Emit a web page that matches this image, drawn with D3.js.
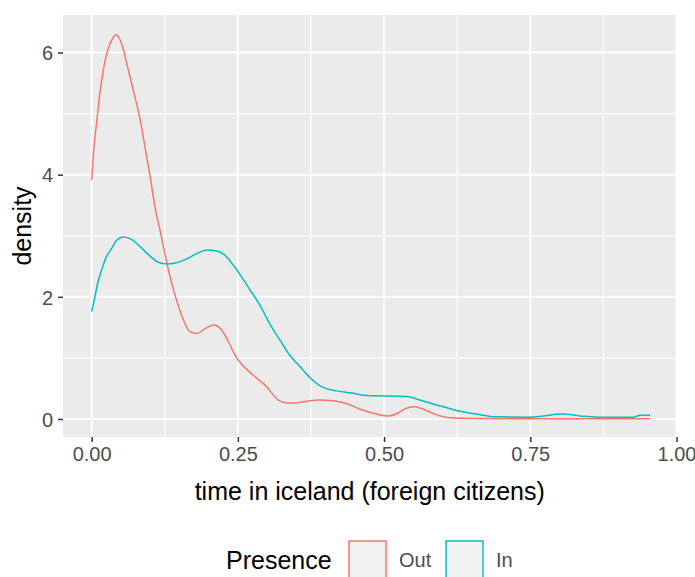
<!DOCTYPE html>
<html>
<head>
<meta charset="utf-8">
<script src="https://cdn.jsdelivr.net/npm/d3@7"></script>
<style>
  body { margin: 0; background: #fff; }
  text { font-family: "Liberation Sans", Arial, sans-serif; }
</style>
</head>
<body>
<div id="chart"></div>
<script>
// density curves
const outX = [0, 0.003, 0.0085, 0.014, 0.02, 0.026, 0.034, 0.042, 0.051, 0.06, 0.071, 0.083, 0.091, 0.10, 0.108, 0.117, 0.125, 0.134, 0.145, 0.157, 0.168, 0.18, 0.194, 0.208, 0.222, 0.235, 0.245, 0.256, 0.276, 0.299, 0.319, 0.336, 0.356, 0.373, 0.39, 0.413, 0.436, 0.459, 0.487, 0.507, 0.522, 0.536, 0.55, 0.567, 0.584, 0.604, 0.63, 0.7, 0.8, 0.9, 0.955];
const outY = [3.91, 4.35, 4.85, 5.33, 5.71, 5.99, 6.20, 6.29, 6.15, 5.82, 5.39, 4.90, 4.46, 3.97, 3.48, 3.09, 2.71, 2.33, 1.95, 1.62, 1.43, 1.40, 1.48, 1.54, 1.46, 1.24, 1.05, 0.90, 0.72, 0.53, 0.31, 0.26, 0.27, 0.30, 0.31, 0.30, 0.25, 0.16, 0.08, 0.05, 0.09, 0.17, 0.20, 0.16, 0.09, 0.03, 0.01, 0.005, 0.005, 0.005, 0.005];
const inX = [0, 0.0056, 0.011, 0.017, 0.024, 0.034, 0.043, 0.054, 0.068, 0.083, 0.097, 0.111, 0.125, 0.142, 0.162, 0.182, 0.197, 0.214, 0.228, 0.242, 0.256, 0.271, 0.288, 0.305, 0.322, 0.339, 0.356, 0.373, 0.393, 0.419, 0.447, 0.47, 0.539, 0.561, 0.59, 0.624, 0.658, 0.693, 0.75, 0.772, 0.804, 0.835, 0.864, 0.926, 0.938, 0.955];
const inY = [1.76, 2.00, 2.25, 2.44, 2.63, 2.79, 2.93, 2.98, 2.94, 2.82, 2.69, 2.58, 2.54, 2.55, 2.62, 2.72, 2.765, 2.75, 2.68, 2.52, 2.33, 2.11, 1.86, 1.55, 1.29, 1.04, 0.86, 0.68, 0.53, 0.46, 0.42, 0.385, 0.37, 0.31, 0.23, 0.14, 0.08, 0.035, 0.03, 0.05, 0.08, 0.05, 0.03, 0.03, 0.06, 0.06];

const groups = ["Out", "In"];
const colors = ["#F8766D", "#00BFC4"];
const xTicks = [0, 0.25, 0.5, 0.75, 1.0];
const xMinor = [0.125, 0.375, 0.625, 0.875];
const yTicks = [0, 2, 4, 6];
const yMinor = [1, 3, 5];

const width = 695, height = 577;
const panel = {left: 63, right: 676.5, top: 15, bottom: 437};

const svg = d3.select('#chart').append('svg')
    .attr('width', width).attr('height', height);

const x = d3.scaleLinear().domain([-0.049, 1.0]).range([panel.left, panel.right]);
const y = d3.scaleLinear().domain([-0.295, 6.614]).range([panel.bottom, panel.top]);

// panel background + grid
svg.append('rect')
    .attr('x', panel.left).attr('y', panel.top)
    .attr('width', panel.right - panel.left).attr('height', panel.bottom - panel.top)
    .attr('fill', '#EBEBEB');

const grid = svg.append('g');
grid.selectAll('.ymin').data(yMinor).enter().append('line')
    .attr('x1', panel.left).attr('x2', panel.right)
    .attr('y1', d => y(d)).attr('y2', d => y(d))
    .attr('stroke', '#fff').attr('stroke-width', 1.2);
grid.selectAll('.xmin').data(xMinor).enter().append('line')
    .attr('y1', panel.top).attr('y2', panel.bottom)
    .attr('x1', d => x(d)).attr('x2', d => x(d))
    .attr('stroke', '#fff').attr('stroke-width', 1.2);
grid.selectAll('.ymaj').data(yTicks).enter().append('line')
    .attr('x1', panel.left).attr('x2', panel.right)
    .attr('y1', d => y(d)).attr('y2', d => y(d))
    .attr('stroke', '#fff').attr('stroke-width', 2);
grid.selectAll('.xmaj').data(xTicks).enter().append('line')
    .attr('y1', panel.top).attr('y2', panel.bottom)
    .attr('x1', d => x(d)).attr('x2', d => x(d))
    .attr('stroke', '#fff').attr('stroke-width', 2);

// axes
const xAxis = svg.append('g')
    .attr('transform', `translate(0,${panel.bottom})`)
    .call(d3.axisBottom(x).tickValues(xTicks).tickFormat(d3.format('.2f')).tickSize(5).tickPadding(5));
const yAxis = svg.append('g')
    .attr('transform', `translate(${panel.left},0)`)
    .call(d3.axisLeft(y).tickValues(yTicks).tickFormat(d3.format('d')).tickSize(5).tickPadding(5));
[xAxis, yAxis].forEach(a => {
    a.select('.domain').remove();
    a.selectAll('.tick line').attr('stroke', '#333333').attr('stroke-width', 1.5);
    a.selectAll('.tick text').attr('fill', '#4D4D4D')
        .style('font-family', '"Liberation Sans", Arial, sans-serif').style('font-size', '20px');
});
yAxis.selectAll('.tick text').attr('dy', '0.36em');

// curves
const line = d3.line().x(d => x(d[0])).y(d => y(d[1])).curve(d3.curveMonotoneX);
const series = [d3.zip(outX, outY), d3.zip(inX, inY)];
svg.append('g').selectAll('path').data(series).enter().append('path')
    .attr('d', line)
    .attr('fill', 'none')
    .attr('stroke', (d, i) => colors[i])
    .attr('stroke-width', 1.5);

// axis titles
svg.append('text')
    .attr('x', (panel.left + panel.right) / 2).attr('y', 500)
    .attr('text-anchor', 'middle')
    .style('font-size', '25px').attr('fill', '#000')
    .text('time in iceland (foreign citizens)');
svg.append('text')
    .attr('transform', `translate(31,${(panel.top + panel.bottom) / 2}) rotate(-90)`)
    .attr('text-anchor', 'middle')
    .style('font-size', '25px').attr('fill', '#000')
    .text('density');

// legend
const legend = svg.append('g');
legend.append('text')
    .attr('x', 226).attr('y', 569)
    .style('font-size', '25px').attr('fill', '#000')
    .text('Presence');
const keyX = [349, 446];
groups.forEach((g, i) => {
    legend.append('rect')
        .attr('x', keyX[i]).attr('y', 541)
        .attr('width', 37).attr('height', 37)
        .attr('fill', '#F2F2F2')
        .attr('stroke', colors[i]).attr('stroke-width', 1.5);
    legend.append('text')
        .attr('x', keyX[i] + 50).attr('y', 567)
        .style('font-size', '20px').attr('fill', '#4D4D4D')
        .text(g);
});
</script>
</body>
</html>
